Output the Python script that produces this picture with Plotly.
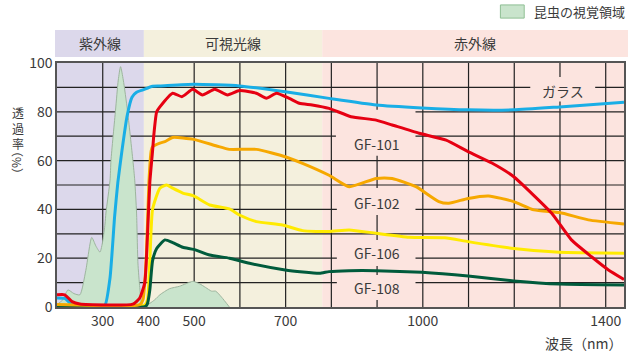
import plotly.graph_objects as go

# ---- data -------------------------------------------------------------
insect_nm = [200, 213, 224, 237, 250, 263, 276, 285, 294, 300, 305, 307, 316, 318, 328, 334, 339,
             345, 354, 366, 370, 374, 377, 381, 385, 392, 403, 414, 425, 446, 468, 497, 512,
             525, 538, 547, 560, 577]
insect_val = [1, 3, 7, 5.5, 5, 15, 28.5, 25, 22.5, 27, 34, 38.5, 52, 60, 80.7, 93, 98.5,
              93, 80.7, 60, 52, 38.5, 18, 8, 1.6, 0.5, 1.5, 3, 5, 7.5, 8.5, 10.5, 9.5,
              8, 6.5, 6.5, 4, 0]

glass_nm = [200, 217, 233, 250, 294, 305, 316, 326, 333, 342, 353, 364, 374, 388, 409, 425,
            499, 599, 699, 795, 898, 998, 1099, 1199, 1299, 1440]
glass_val = [3.7, 3.5, 1, 0.5, 0.5, 0.8, 12, 37, 51, 64, 78, 86, 88, 89, 90.5, 90.6,
             91.3, 90.6, 88.2, 85.5, 82.8, 81.6, 80.8, 80.8, 82, 83.9]

gf101_nm = [200, 217, 233, 250, 366, 381, 392, 398, 403, 409, 412, 418, 425, 453, 473, 497,
            518, 545, 573, 599, 636, 658, 680, 708, 730, 758, 795, 843, 898, 933, 992, 1051,
            1099, 1151, 1199, 1238, 1282, 1325, 1369, 1406, 1440]
gf101_val = [5, 5, 2.2, 1.2, 1.2, 3.7, 10, 30, 51, 64, 71, 80, 82, 87.6, 86.2, 89.2,
             86.9, 89.2, 86.9, 88.7, 87.6, 85.6, 87.6, 85.5, 83.5, 82.8, 81.4, 78, 76.6, 74.6, 71.2, 68.4,
             63.7, 59, 53.4, 46.6, 38.4, 27.5, 20.6, 15.2, 11.3]

gf102_nm = [200, 381, 388, 392, 396, 401, 406, 409, 425, 436, 453, 499, 549, 577, 636, 699,
            737, 795, 839, 898, 933, 985, 1035, 1057, 1099, 1144, 1199, 1243, 1299, 1362, 1440]
gf102_val = [1, 1, 3, 10, 23, 51, 64, 65.7, 67.2, 67.8, 69.5, 68.7, 66, 64.6, 64.6, 61.6,
             58.9, 54, 49.3, 52.7, 52.7, 49.3, 43.2, 42.5, 44.5, 45.5, 43.2, 39.8, 38.7, 35.7, 34]

gf106_nm = [200, 392, 398, 403, 409, 425, 440, 453, 475, 499, 534, 577, 599, 636, 693, 737,
            795, 839, 898, 970, 1048, 1099, 1199, 1299, 1440]
gf106_val = [0.8, 0.8, 3, 19, 40, 48.7, 50, 48.7, 46.7, 45.5, 41.8, 40.2, 37.7, 35, 33.6, 31.3,
             30.9, 31.6, 30.2, 28.6, 28.4, 26.8, 24, 22.4, 22]

gf108_nm = [200, 394, 398, 403, 409, 418, 436, 453, 475, 499, 534, 577, 621, 699, 774, 795,
            839, 898, 998, 1099, 1199, 1299, 1440]
gf108_val = [0.3, 0.3, 1.5, 7, 19, 24, 27.5, 26.4, 24.5, 23.6, 21.3, 20, 17.9, 15.2, 13.8, 14.5,
             14.9, 14.9, 14.2, 12.7, 10.7, 9.4, 9]

# spectral regions (nm)
region_names = ["紫外線", "可視光線", "赤外線"]
region_edges = [200, 390, 780, 1440]
region_colors = ["#dcd8eb", "#f4f0dd", "#fce4df"]

x_ticks = [300, 400, 500, 700, 1000, 1400]
x_grid = [300, 500, 600, 700, 800, 900, 1000, 1100, 1200, 1300, 1400]
y_grid = [10, 20, 30, 40, 50, 60, 70, 80, 90]

# curve labels: text, centre (nm, %), backing box (nm0, nm1, %0, %1)
curve_labels = [
    ("ガラス", 1307, 88.7, (1235, 1377, 84.2, 94.3)),
    ("GF-101", 900, 66.8, (810, 984, 62.0, 80.8)),
    ("GF-102", 900, 42.6, (812, 984, 37.7, 48.8)),
    ("GF-106", 900, 22.1, (812, 984, 16.8, 27.5)),
    ("GF-108", 900, 7.8, (812, 984, 2.9, 13.1)),
]

X_MIN, X_MAX = 200, 1440
TXT = "#3a3a3a"
GRID = "#222222"
FONT = "Noto Sans CJK JP"

fig = go.Figure()

fig.add_trace(go.Scatter(x=insect_nm, y=insect_val, mode="lines", fill="tozeroy",
                         fillcolor="#c9e4cc",
                         line=dict(color="#9db59e", width=1, shape="spline", smoothing=0.6),
                         showlegend=False, hoverinfo="skip"))

series = [(glass_nm, glass_val, "#19aee6"),
          (gf106_nm, gf106_val, "#ffea00"),
          (gf108_nm, gf108_val, "#005b3c"),
          (gf102_nm, gf102_val, "#f6a800"),
          (gf101_nm, gf101_val, "#e60012")]
for xs, ys, col in series:
    fig.add_trace(go.Scatter(x=xs, y=ys, mode="lines",
                             line=dict(color=col, width=3, shape="spline", smoothing=0.5),
                             showlegend=False))

shapes = []
span = X_MAX - X_MIN
plot_w = 569
for i, col in enumerate(region_colors):
    # background band inside the plot
    shapes.append(dict(type="rect", xref="x", yref="paper", x0=region_edges[i],
                       x1=region_edges[i + 1], y0=0, y1=1, fillcolor=col,
                       line=dict(width=0), layer="below"))
    # header band above the plot
    px0 = (region_edges[i] - X_MIN) / span
    px1 = (region_edges[i + 1] - X_MIN) / span
    if i == 0:
        px0 -= 2 / plot_w
    if i == len(region_colors) - 1:
        px1 += 4 / plot_w
    shapes.append(dict(type="rect", xref="paper", yref="paper", x0=px0, x1=px1,
                       y0=1.0246, y1=1.135, fillcolor=col, line=dict(width=0)))
# grid
for gx in x_grid:
    shapes.append(dict(type="line", xref="x", yref="paper", x0=gx, x1=gx, y0=0, y1=1,
                       line=dict(color=GRID, width=1.2), layer="below"))
for gy in y_grid:
    shapes.append(dict(type="line", xref="paper", yref="y", x0=0, x1=1, y0=gy, y1=gy,
                       line=dict(color=GRID, width=1.2), layer="below"))
# backing boxes behind the curve labels
for _, _, _, (b0, b1, v0, v1) in curve_labels:
    shapes.append(dict(type="rect", xref="x", yref="y", x0=b0, x1=b1, y0=v0, y1=v1,
                       fillcolor=region_colors[2], line=dict(width=0), layer="below"))
# legend swatch
shapes.append(dict(type="rect", xref="paper", yref="paper", x0=0.782, x1=0.824,
                   y0=1.184, y1=1.238, fillcolor="#c9e4cc",
                   line=dict(color="#8fbf94", width=1)))

annotations = []
for i, name in enumerate(region_names):
    cx = ((region_edges[i] + region_edges[i + 1]) / 2 - X_MIN) / span
    if i == len(region_names) - 1:
        cx = ((region_edges[i] - X_MIN) / span + 1 + 4 / plot_w) / 2
    annotations.append(dict(text=name, xref="paper", yref="paper", x=cx, y=1.082,
                            xanchor="center", yanchor="middle", showarrow=False,
                            font=dict(size=14, color=TXT, family=FONT)))
for text, lx, ly, _ in curve_labels:
    annotations.append(dict(text=text, x=lx, y=ly, xref="x", yref="y", showarrow=False,
                            xanchor="center", yanchor="middle",
                            font=dict(size=14, color=TXT, family=FONT)))
annotations += [
    dict(text="昆虫の視覚領域", xref="paper", yref="paper", x=0.838, y=1.211,
         xanchor="left", yanchor="middle", showarrow=False,
         font=dict(size=13, color=TXT, family=FONT)),
    dict(text="波長（nm）", xref="paper", yref="paper", x=1.002, y=-0.148,
         xanchor="right", yanchor="middle", showarrow=False,
         font=dict(size=14, color=TXT, family=FONT)),
    dict(text="透<br>過<br>率", xref="paper", yref="paper", x=-0.0685, y=0.735,
         xanchor="center", yanchor="middle", showarrow=False,
         font=dict(size=12, color=TXT, family=FONT)),
    dict(text="（%）", xref="paper", yref="paper", x=-0.0685, y=0.594, textangle=90,
         xanchor="center", yanchor="middle", showarrow=False,
         font=dict(size=12, color=TXT, family=FONT)),
]

fig.update_layout(
    width=630, height=352,
    margin=dict(l=57, r=4, t=63, b=45),
    paper_bgcolor="white", plot_bgcolor="white",
    shapes=shapes, annotations=annotations,
    font=dict(family=FONT, color=TXT, size=14),
    xaxis=dict(range=[X_MIN, X_MAX], tickvals=x_ticks, showgrid=False, zeroline=False,
               showline=True, mirror=True, linecolor="#555555", linewidth=1.5,
               ticks="", tickfont=dict(size=14, color=TXT)),
    yaxis=dict(range=[0, 100], dtick=20, showgrid=False, zeroline=False,
               showline=True, mirror=True, linecolor="#555555",
               linewidth=1.5, ticks="", tickfont=dict(size=14, color=TXT)),
)

fig.write_html("out.html")
